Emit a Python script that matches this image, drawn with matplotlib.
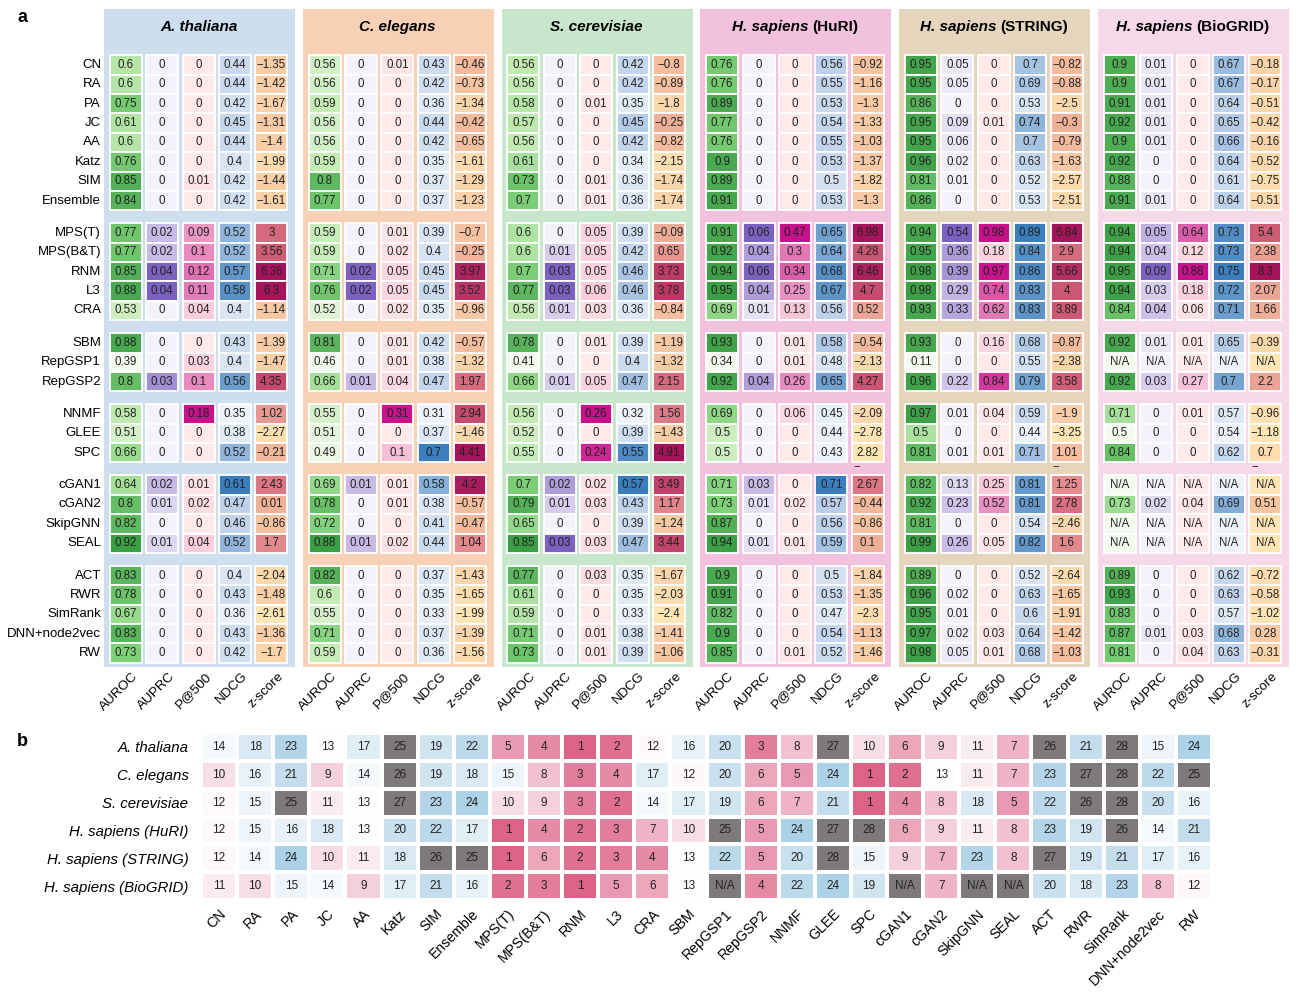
import numpy as np
import matplotlib.pyplot as plt
from matplotlib.colors import LinearSegmentedColormap, Normalize, TwoSlopeNorm
from matplotlib.patches import Rectangle

plt.rcParams['font.family'] = ['Liberation Sans', 'DejaVu Sans']

NA = np.nan

methods = ["CN", "RA", "PA", "JC", "AA", "Katz", "SIM", "Ensemble",
           "MPS(T)", "MPS(B&T)", "RNM", "L3", "CRA",
           "SBM", "RepGSP1", "RepGSP2",
           "NNMF", "GLEE", "SPC",
           "cGAN1", "cGAN2", "SkipGNN", "SEAL",
           "ACT", "RWR", "SimRank", "DNN+node2vec", "RW"]
group_sizes = [8, 5, 3, 3, 4, 5]
metrics = ["AUROC", "AUPRC", "P@500", "NDCG", "z-score"]
species = ["A. thaliana", "C. elegans", "S. cerevisiae",
           "H. sapiens (HuRI)", "H. sapiens (STRING)", "H. sapiens (BioGRID)"]
panel_bg = ["#CDDFEE", "#F8D0B6", "#C7E6CC", "#F2C1DE", "#E5D5BC", "#F5D9E8"]

# ---- panel a values ----
ath_auroc = [0.6, 0.6, 0.75, 0.61, 0.6, 0.76, 0.85, 0.84, 0.77, 0.77, 0.85, 0.88, 0.53,
             0.88, 0.39, 0.8, 0.58, 0.51, 0.66, 0.64, 0.8, 0.82, 0.92, 0.83, 0.78, 0.67, 0.83, 0.73]
ath_auprc = [0, 0, 0, 0, 0, 0, 0, 0, 0.02, 0.02, 0.04, 0.04, 0,
             0, 0, 0.03, 0, 0, 0, 0.02, 0.01, 0, 0.01, 0, 0, 0, 0, 0]
ath_p500 = [0, 0, 0, 0, 0, 0, 0.01, 0, 0.09, 0.1, 0.12, 0.11, 0.04,
            0, 0.03, 0.1, 0.18, 0, 0, 0.01, 0.02, 0, 0.04, 0, 0, 0, 0, 0]
ath_ndcg = [0.44, 0.44, 0.42, 0.45, 0.44, 0.4, 0.42, 0.42, 0.52, 0.52, 0.57, 0.58, 0.4,
            0.43, 0.4, 0.56, 0.35, 0.38, 0.52, 0.61, 0.47, 0.46, 0.52, 0.4, 0.43, 0.36, 0.43, 0.42]
ath_z = [-1.35, -1.42, -1.67, -1.31, -1.4, -1.99, -1.44, -1.61, 3, 3.56, 6.36, 6.3, -1.14,
         -1.39, -1.47, 4.35, 1.02, -2.27, -0.21, 2.43, 0.01, -0.86, 1.7, -2.04, -1.48, -2.61, -1.36, -1.7]

cel_auroc = [0.56, 0.56, 0.59, 0.56, 0.56, 0.59, 0.8, 0.77, 0.59, 0.59, 0.71, 0.76, 0.52,
             0.81, 0.46, 0.66, 0.55, 0.51, 0.49, 0.69, 0.78, 0.72, 0.88, 0.82, 0.6, 0.55, 0.71, 0.59]
cel_auprc = [0, 0, 0, 0, 0, 0, 0, 0, 0, 0, 0.02, 0.02, 0,
             0, 0, 0.01, 0, 0, 0, 0.01, 0, 0, 0.01, 0, 0, 0, 0, 0]
cel_p500 = [0.01, 0, 0, 0, 0, 0, 0, 0, 0.01, 0.02, 0.05, 0.05, 0.02,
            0.01, 0.01, 0.04, 0.31, 0, 0.1, 0.01, 0.01, 0, 0.02, 0, 0, 0, 0, 0]
cel_ndcg = [0.43, 0.42, 0.36, 0.44, 0.42, 0.35, 0.37, 0.37, 0.39, 0.4, 0.45, 0.45, 0.35,
            0.42, 0.38, 0.47, 0.31, 0.37, 0.7, 0.58, 0.38, 0.41, 0.44, 0.37, 0.35, 0.33, 0.37, 0.36]
cel_z = [-0.46, -0.73, -1.34, -0.42, -0.65, -1.61, -1.29, -1.23, -0.7, -0.25, 3.97, 3.52, -0.96,
         -0.57, -1.32, 1.97, 2.94, -1.46, 4.41, 4.2, -0.57, -0.47, 1.04, -1.43, -1.65, -1.99, -1.39, -1.56]

sce_auroc = [0.56, 0.56, 0.58, 0.57, 0.56, 0.61, 0.73, 0.7, 0.6, 0.6, 0.7, 0.77, 0.56,
             0.78, 0.41, 0.66, 0.56, 0.52, 0.55, 0.7, 0.79, 0.65, 0.85, 0.77, 0.61, 0.59, 0.71, 0.73]
sce_auprc = [0, 0, 0, 0, 0, 0, 0, 0, 0, 0.01, 0.03, 0.03, 0.01,
             0, 0, 0.01, 0, 0, 0, 0.02, 0.01, 0, 0.03, 0, 0, 0, 0, 0]
sce_p500 = [0, 0, 0.01, 0, 0, 0, 0.01, 0.01, 0.05, 0.05, 0.05, 0.06, 0.03,
            0.01, 0, 0.05, 0.26, 0, 0.24, 0.02, 0.03, 0, 0.03, 0.03, 0, 0, 0.01, 0.01]
sce_ndcg = [0.42, 0.42, 0.35, 0.45, 0.42, 0.34, 0.36, 0.36, 0.39, 0.42, 0.46, 0.46, 0.36,
            0.39, 0.4, 0.47, 0.32, 0.39, 0.55, 0.57, 0.43, 0.39, 0.47, 0.35, 0.35, 0.33, 0.38, 0.39]
sce_z = [-0.8, -0.89, -1.8, -0.25, -0.82, -2.15, -1.74, -1.74, -0.09, 0.65, 3.73, 3.78, -0.84,
         -1.19, -1.32, 2.15, 1.56, -1.43, 4.91, 3.49, 1.17, -1.24, 3.44, -1.67, -2.03, -2.4, -1.41, -1.06]

huri_auroc = [0.76, 0.76, 0.89, 0.77, 0.76, 0.9, 0.89, 0.91, 0.91, 0.92, 0.94, 0.95, 0.69,
              0.93, 0.34, 0.92, 0.69, 0.5, 0.5, 0.71, 0.73, 0.87, 0.94, 0.9, 0.91, 0.82, 0.9, 0.85]
huri_auprc = [0, 0, 0, 0, 0, 0, 0, 0, 0.06, 0.04, 0.06, 0.04, 0.01,
              0, 0, 0.04, 0, 0, 0, 0.03, 0.01, 0, 0.01, 0, 0, 0, 0, 0]
huri_p500 = [0, 0, 0, 0, 0, 0, 0, 0, 0.47, 0.3, 0.34, 0.25, 0.13,
             0.01, 0.01, 0.26, 0.06, 0, 0, 0, 0.02, 0, 0.01, 0, 0, 0, 0, 0.01]
huri_ndcg = [0.56, 0.55, 0.53, 0.54, 0.55, 0.53, 0.5, 0.53, 0.65, 0.64, 0.68, 0.67, 0.56,
             0.58, 0.48, 0.65, 0.45, 0.44, 0.43, 0.71, 0.57, 0.56, 0.59, 0.5, 0.53, 0.47, 0.54, 0.52]
huri_z = [-0.92, -1.16, -1.3, -1.33, -1.03, -1.37, -1.82, -1.3, 6.98, 4.28, 6.46, 4.7, 0.52,
          -0.54, -2.13, 4.27, -2.09, -2.78, -2.82, 2.67, -0.44, -0.86, 0.1, -1.84, -1.35, -2.3, -1.13, -1.46]

string_auroc = [0.95, 0.95, 0.86, 0.95, 0.95, 0.96, 0.81, 0.86, 0.94, 0.95, 0.98, 0.98, 0.93,
                0.93, 0.11, 0.96, 0.97, 0.5, 0.81, 0.82, 0.92, 0.81, 0.99, 0.89, 0.96, 0.95, 0.97, 0.98]
string_auprc = [0.05, 0.05, 0, 0.09, 0.06, 0.02, 0.01, 0, 0.54, 0.36, 0.39, 0.29, 0.33,
                0, 0, 0.22, 0.01, 0, 0.01, 0.13, 0.23, 0, 0.26, 0, 0.02, 0.01, 0.02, 0.05]
string_p500 = [0, 0, 0, 0.01, 0, 0, 0, 0, 0.98, 0.18, 0.97, 0.74, 0.62,
               0.16, 0, 0.84, 0.04, 0, 0.01, 0.25, 0.52, 0, 0.05, 0, 0, 0, 0.03, 0.01]
string_ndcg = [0.7, 0.69, 0.53, 0.74, 0.7, 0.63, 0.52, 0.53, 0.89, 0.84, 0.86, 0.83, 0.83,
               0.68, 0.55, 0.79, 0.59, 0.44, 0.71, 0.81, 0.81, 0.54, 0.82, 0.52, 0.63, 0.6, 0.64, 0.68]
string_z = [-0.82, -0.88, -2.5, -0.3, -0.79, -1.63, -2.57, -2.51, 6.84, 2.9, 5.66, 4, 3.89,
            -0.87, -2.38, 3.58, -1.9, -3.25, -1.01, 1.25, 2.78, -2.46, 1.6, -2.64, -1.65, -1.91, -1.42, -1.03]

biogrid_auroc = [0.9, 0.9, 0.91, 0.92, 0.9, 0.92, 0.88, 0.91, 0.94, 0.94, 0.95, 0.94, 0.84,
                 0.92, NA, 0.92, 0.71, 0.5, 0.84, NA, 0.73, NA, NA, 0.89, 0.93, 0.83, 0.87, 0.81]
biogrid_auprc = [0.01, 0.01, 0.01, 0.01, 0.01, 0, 0, 0.01, 0.05, 0.04, 0.09, 0.03, 0.04,
                 0.01, NA, 0.03, 0, 0, 0, NA, 0.02, NA, NA, 0, 0, 0, 0.01, 0]
biogrid_p500 = [0, 0, 0, 0, 0, 0, 0, 0, 0.64, 0.12, 0.88, 0.18, 0.06,
                0.01, NA, 0.27, 0.01, 0, 0, NA, 0.04, NA, NA, 0, 0, 0, 0.03, 0.04]
biogrid_ndcg = [0.67, 0.67, 0.64, 0.65, 0.66, 0.64, 0.61, 0.64, 0.73, 0.73, 0.75, 0.72, 0.71,
                0.65, NA, 0.7, 0.57, 0.54, 0.62, NA, 0.69, NA, NA, 0.62, 0.63, 0.57, 0.68, 0.63]
biogrid_z = [-0.18, -0.17, -0.51, -0.42, -0.16, -0.52, -0.75, -0.51, 5.4, 2.38, 8.3, 2.07, 1.66,
             -0.39, NA, 2.2, -0.96, -1.18, -0.7, NA, 0.51, NA, NA, -0.72, -0.58, -1.02, 0.28, -0.31]

# z-score cells whose minus sign is printed just below the box in the original (panel, row)
minus_below = [(3, 18), (4, 18), (5, 18)]

panel_values = [
    [ath_auroc, ath_auprc, ath_p500, ath_ndcg, ath_z],
    [cel_auroc, cel_auprc, cel_p500, cel_ndcg, cel_z],
    [sce_auroc, sce_auprc, sce_p500, sce_ndcg, sce_z],
    [huri_auroc, huri_auprc, huri_p500, huri_ndcg, huri_z],
    [string_auroc, string_auprc, string_p500, string_ndcg, string_z],
    [biogrid_auroc, biogrid_auprc, biogrid_p500, biogrid_ndcg, biogrid_z],
]

# ---- panel b ranks ----
rank_species = ["A. thaliana", "C. elegans", "S. cerevisiae",
                "H. sapiens (HuRI)", "H. sapiens (STRING)", "H. sapiens (BioGRID)"]
rank_ath = [14, 18, 23, 13, 17, 25, 19, 22, 5, 4, 1, 2, 12, 16, 20, 3, 8, 27, 10, 6, 9, 11, 7, 26, 21, 28, 15, 24]
rank_cel = [10, 16, 21, 9, 14, 26, 19, 18, 15, 8, 3, 4, 17, 12, 20, 6, 5, 24, 1, 2, 13, 11, 7, 23, 27, 28, 22, 25]
rank_sce = [12, 15, 25, 11, 13, 27, 23, 24, 10, 9, 3, 2, 14, 17, 19, 6, 7, 21, 1, 4, 8, 18, 5, 22, 26, 28, 20, 16]
rank_huri = [12, 15, 16, 18, 13, 20, 22, 17, 1, 4, 2, 3, 7, 10, 25, 5, 24, 27, 28, 6, 9, 11, 8, 23, 19, 26, 14, 21]
rank_string = [12, 14, 24, 10, 11, 18, 26, 25, 1, 6, 2, 3, 4, 13, 22, 5, 20, 28, 15, 9, 7, 23, 8, 27, 19, 21, 17, 16]
rank_biogrid = [11, 10, 15, 14, 9, 17, 21, 16, 2, 3, 1, 5, 6, 13, NA, 4, 22, 24, 19, NA, 7, NA, NA, 20, 18, 23, 8, 12]

metric_cmaps = [
    LinearSegmentedColormap.from_list("auroc", ["#F4FAEE", "#C3ECB4", "#7ACD74", "#3A9E45"]),
    LinearSegmentedColormap.from_list("auprc", ["#F4F2FA", "#C7BBE6", "#7C62C0"]),
    LinearSegmentedColormap.from_list("p500", ["#FFE9E9", "#F7BFD6", "#E070B2", "#C8128C"]),
    LinearSegmentedColormap.from_list("ndcg", ["#EDF3FA", "#B9CFE9", "#3A7EBD"]),
    LinearSegmentedColormap.from_list("z", ["#FFE6B4", "#F2B89B", "#E0848A", "#C8506F", "#A5145A"]),
]


def fmt(v):
    if np.isnan(v):
        return "N/A"
    return ("%g" % v).replace("-", "\u2212")


fig = plt.figure(figsize=(12.96, 9.94), dpi=100)

# ================= panel a =================
PANEL_STEP = 5.46
ROW_GAP = 0.67
group_idx = np.repeat(np.arange(len(group_sizes)), group_sizes)
row_y = np.arange(len(methods)) + group_idx * ROW_GAP

ax = fig.add_axes([104 / 1296, 1 - 667 / 994, 1185 / 1296, 658 / 994])
ax.set_xlim(-0.6, 5 * PANEL_STEP + 4.65)
ax.set_ylim(row_y[-1] + 0.72, -2.89)
ax.axis("off")

for p, sp in enumerate(species):
    x0 = p * PANEL_STEP
    ax.add_patch(Rectangle((x0 - 0.6, -2.89), 5.25, row_y[-1] + 0.72 + 2.89,
                           facecolor=panel_bg[p], edgecolor="none", zorder=0))
    # panel title: species name italic, database name upright
    if "(" in sp:
        name, db = sp.split(" (")
        t1 = ax.text(x0 + 2.0, -1.96, name + " ", fontsize=11, fontweight="bold",
                     fontstyle="italic", ha="center", va="center")
        t2 = ax.annotate("(" + db, xy=(1, 0), xycoords=t1, ha="left", va="bottom",
                         fontsize=11, fontweight="bold")
        fig.canvas.draw()
        w1 = t1.get_window_extent().width
        w2 = t2.get_window_extent().width
        shift = (w1 + w2) / 2 - w1 / 2
        px_per_unit = ax.transData.transform((1, 0))[0] - ax.transData.transform((0, 0))[0]
        t1.set_x(x0 + 2.0 - shift / px_per_unit)
    else:
        ax.text(x0 + 2.0, -1.96, sp, fontsize=11, fontweight="bold",
                fontstyle="italic", ha="center", va="center")

    for j, vals in enumerate(panel_values[p]):
        vals = np.array(vals, dtype=float)
        norm = Normalize(np.nanmin(vals), np.nanmax(vals))
        cmap = metric_cmaps[j]
        for i, v in enumerate(vals):
            color = cmap(0.0) if np.isnan(v) else cmap(norm(v))
            ax.add_patch(Rectangle((x0 + j - 0.44, row_y[i] - 0.5), 0.88, 1.0,
                                   facecolor=color, edgecolor="white", lw=1.3, zorder=1))
            label = fmt(v)
            if j == 4 and (p, i) in minus_below:
                label = label.replace("\u2212", "")
                ax.text(x0 + j - 0.3, row_y[i] + 0.68, "\u2212", fontsize=8.3,
                        ha="center", va="center", color="#222222")
            ax.text(x0 + j, row_y[i], label, fontsize=8.3, ha="center", va="center",
                    color="#222222", zorder=2)
        ax.text(x0 + j + 0.17, row_y[-1] + 0.88, metrics[j], rotation=45, ha="right",
                va="top", rotation_mode="anchor", fontsize=9.7)

for i, m in enumerate(methods):
    ax.text(-0.68, row_y[i], m, ha="right", va="center", fontsize=9.5)

# ================= panel b =================
ranks = np.array([rank_ath, rank_cel, rank_sce, rank_huri, rank_string, rank_biogrid], dtype=float)
rank_cmap = LinearSegmentedColormap.from_list("rank", ["#DC6286", "#FFFFFF", "#AACFE6"])
rank_cmap.set_over("#7E7A79")
rank_cmap.set_bad("#7E7A79")
rank_norm = TwoSlopeNorm(vmin=1, vcenter=12.5, vmax=24.5)

axb = fig.add_axes([201 / 1296, 1 - 900 / 994, 1011 / 1296, 167 / 994])
axb.pcolormesh(np.ma.masked_invalid(ranks), cmap=rank_cmap, norm=rank_norm,
               edgecolors="white", linewidth=1.5)
axb.set_xlim(0, len(methods))
axb.set_ylim(len(rank_species), 0)
for r in range(ranks.shape[0]):
    for c in range(ranks.shape[1]):
        v = ranks[r, c]
        axb.text(c + 0.5, r + 0.5, "N/A" if np.isnan(v) else "%d" % v,
                 ha="center", va="center", fontsize=8.5, color="#222222")
axb.set_yticks(np.arange(len(rank_species)) + 0.5, rank_species,
               fontsize=10.8, fontstyle="italic")
axb.set_xticks(np.arange(len(methods)) + 0.5, methods, fontsize=10.2,
               rotation=45, ha="right", rotation_mode="anchor")
axb.tick_params(length=0, pad=9)
axb.tick_params(axis="x", pad=5)
for s in axb.spines.values():
    s.set_visible(False)

fig.text(22 / 1296, 1 - 18 / 994, "a", fontsize=13, fontweight="bold", ha="center", va="center")
fig.text(22 / 1296, 1 - 742 / 994, "b", fontsize=13, fontweight="bold", ha="center", va="center")

fig.savefig("out.png", dpi=100)
